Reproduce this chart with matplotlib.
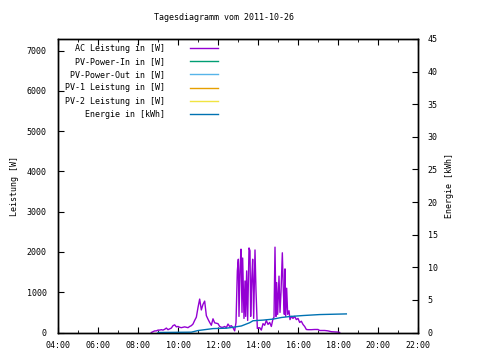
import pandas as pd
import matplotlib
matplotlib.use("Agg")
import matplotlib.pyplot as plt
import matplotlib.dates as mdates

day = "2011-10-26"

# AC power [W]
ac_times = [
    "08:40", "08:45", "08:50", "08:55", "09:00", "09:05", "09:10", "09:15", "09:20", "09:25",
    "09:30", "09:35", "09:40", "09:45", "09:50", "09:55", "10:00", "10:05", "10:10", "10:15",
    "10:20", "10:25", "10:30", "10:35", "10:40", "10:45", "10:50", "10:55", "11:00", "11:05",
    "11:10", "11:15", "11:20", "11:25", "11:30", "11:35", "11:40", "11:45", "11:50", "11:55",
    "12:00", "12:05", "12:10", "12:15", "12:20", "12:25", "12:30", "12:35", "12:40", "12:45",
    "12:50", "12:54", "12:58", "13:01", "13:03", "13:06", "13:09", "13:12", "13:14", "13:18",
    "13:21", "13:23", "13:26", "13:29", "13:33", "13:36", "13:38", "13:41", "13:44", "13:47",
    "13:51", "13:54", "13:58", "14:05", "14:10", "14:15", "14:20", "14:25", "14:30", "14:35",
    "14:40", "14:45", "14:48", "14:51", "14:54", "14:56", "14:59", "15:03", "15:06", "15:09",
    "15:13", "15:16", "15:19", "15:21", "15:23", "15:26", "15:29", "15:33", "15:36", "15:40",
    "15:45", "15:50", "15:55", "16:00", "16:05", "16:10", "16:15", "16:20", "16:25", "16:30",
    "16:40", "16:50", "17:00", "17:05", "17:10", "17:20", "17:30", "17:40", "17:50", "18:00",
    "18:05",
]
ac_power = [
    0, 20, 40, 40, 60, 60, 70, 60, 80, 110,
    70, 90, 110, 170, 190, 140, 150, 130, 120, 130,
    140, 130, 120, 150, 170, 210, 300, 380, 620, 830,
    560, 700, 780, 420, 330, 250, 180, 340, 240, 230,
    220, 150, 130, 130, 150, 120, 210, 150, 170, 120,
    40, 250, 1530, 1820, 400, 1530, 2070, 500, 1850, 350,
    1280, 400, 1530, 300, 2100, 2030, 400, 1280, 1820, 350,
    2050, 1040, 100, 120, 60, 220, 180, 300, 200, 250,
    150, 340, 380, 2120, 400, 1240, 450, 1400, 500, 1000,
    1980, 1040, 450, 1580, 400, 1100, 450, 540, 320, 400,
    350, 400, 320, 350, 250, 280, 200, 150, 75, 70,
    70, 75, 75, 50, 50, 50, 40, 20, 15, 10,
    0,
]

# Energy [kWh]
en_times = ["09:00", "10:40", "11:00", "11:45", "12:25", "12:45", "13:10", "13:35",
            "13:45", "14:15", "14:45", "15:10", "15:35", "16:15", "17:05", "18:25"]
energy = [0.0, 0.05, 0.3, 0.6, 0.66, 0.8, 1.0, 1.5,
          1.8, 1.9, 2.05, 2.3, 2.45, 2.6, 2.75, 2.85]

labels = ["AC Leistung in [W]", "PV-Power-In in [W]", "PV-Power-Out in [W]",
          "PV-1 Leistung in [W]", "PV-2 Leistung in [W]", "Energie in [kWh]"]
colors = ["#9400d3", "#009e73", "#56b4e9", "#e69f00", "#f0e442", "#0072b2"]

plt.rcParams["font.family"] = ["DejaVu Sans Mono"]
plt.rcParams["font.size"] = 6

fig = plt.figure(figsize=(4.8, 3.6), dpi=100)
ax = fig.add_axes([58 / 480, 1 - 332.5 / 360, 360 / 480, 293.5 / 360])
ax2 = ax.twinx()

t_ac = pd.to_datetime([day + " " + s for s in ac_times])
t_en = pd.to_datetime([day + " " + s for s in en_times])

h = []
h += ax.plot(t_ac, ac_power, color=colors[0], lw=1)
for c in colors[1:5]:
    h += ax.plot([], [], color=c, lw=1)
h += ax2.plot(t_en, energy, color=colors[5], lw=1)

ax.set_xlim(pd.Timestamp(day + " 04:00"), pd.Timestamp(day + " 22:00"))
ax.set_ylim(0, 7290)
ax2.set_ylim(0, 45)
ax.set_yticks(range(0, 8000, 1000))
ax2.set_yticks(range(0, 50, 5))

ax.xaxis.set_major_locator(mdates.HourLocator(interval=2))
ax.xaxis.set_minor_locator(mdates.HourLocator())
ax.xaxis.set_major_formatter(mdates.DateFormatter("%H:%M"))

ax.tick_params(axis="x", which="both", direction="in", top=True, pad=6)
ax.tick_params(axis="x", which="major", length=4)
ax.tick_params(axis="x", which="minor", length=2)
ax.tick_params(axis="y", direction="in", length=4, pad=8, right=False)
ax2.tick_params(axis="y", direction="in", length=4, pad=7)

for a in (ax, ax2):
    for s in a.spines.values():
        s.set_linewidth(1)

ax.set_ylabel("Leistung [W]", labelpad=6)
ax2.set_ylabel("Energie [kWh]", labelpad=5)

fig.text(223.5 / 480, 1 - 18 / 360, "Tagesdiagramm vom 2011-10-26", ha="center", va="center")

ax.legend(h, labels, loc="upper left", bbox_to_anchor=(2 / 360, 1.0), frameon=False,
          markerfirst=False, handlelength=3.4, handletextpad=3.0, labelspacing=0.5,
          borderaxespad=0.2)

fig.savefig("out.png", dpi=100)
